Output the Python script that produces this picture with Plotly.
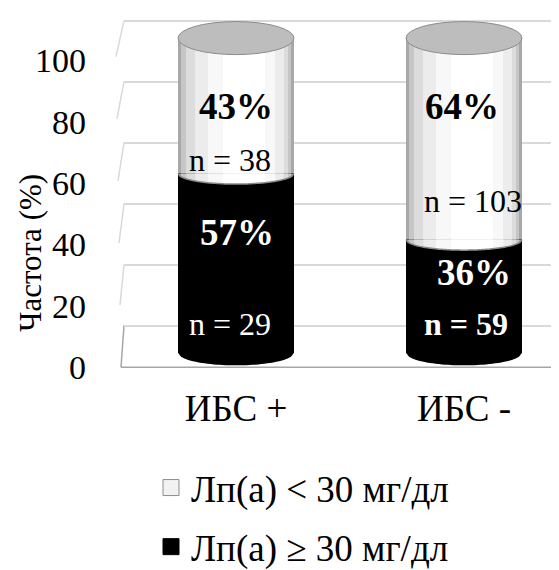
import numpy as np
import plotly.graph_objects as go

# ---------------- data ----------------
categories = ["ИБС +", "ИБС -"]
pct_high = [57, 36]          # Лп(а) ≥ 30 мг/дл
pct_low = [43, 64]           # Лп(а) < 30 мг/дл
n_high = [29, 59]
n_low = [38, 103]
y_ticks = [0, 20, 40, 60, 80, 100]
legend_names = ["Лп(а) < 30 мг/дл", "Лп(а) ≥ 30 мг/дл"]
y_title = "Частота (%)"

# ---------------- layout / style ----------------
FIG_W, FIG_H = 559, 570
L, R, T, B = 116, 559, 0, 380          # plot area in pixels
PW, PH = R - L, B - T
FONT = "Liberation Serif, Times New Roman, serif"

X0_PX, X1_PX = 228, 456                # category centres (px)
SX = X1_PX - X0_PX
x_range = [-(X0_PX - L) / SX, 1 + (R - X1_PX) / SX]
BAR_W = 116 / SX


def axis_range(p0, p100):
    s = (p0 - p100) / 100.0
    return [-(B - p0) / s, 100 + (p100 - T) / s]


CYL = (355, 31)      # cylinder mid-depth plane
FRONT = (370, 54)    # front plane (tick labels)
BACK = (327, 13)     # back wall (grid)
cyl_scale = (CYL[0] - CYL[1]) / 100.0


def px2paper(px, py):
    return (px - L) / PW, (B - py) / PH


LIGHT_LAYERS = [  # (width fraction, shift fraction, colour)
    (1.00, 0.00, "#a8a8a8"),
    (0.95, 0.00, "#c6c6c6"),
    (0.88, 0.01, "#dcdcdc"),
    (0.76, 0.03, "#ececec"),
    (0.58, 0.05, "#f8f8f8"),
    (0.36, 0.07, "#ffffff"),
]
TOP_B = 17 / cyl_scale
MID_B = 11 / cyl_scale
BOT_B = 13 / cyl_scale

# label positions (cylinder-axis units) and pixel shifts
lab_pct_low_y = [78.4, 78.4]
lab_n_low_y = [61.4, 48.1]
lab_pct_high_y = [38.3, 25.5]
lab_n_high_y = [9.0, 9.0]
lab_pct_low_dx = [0, -2]
lab_n_low_dx = [-6, 9]
lab_pct_high_dx = [1, 10]
lab_n_high_dx = [-6, 2]
n_high_bold = [False, True]

fig = go.Figure()

xs = list(range(len(categories)))

# black (lower) segments
fig.add_trace(go.Bar(x=xs, y=pct_high, base=[0] * len(xs), width=BAR_W,
                     offset=-BAR_W / 2, marker=dict(color="#000000", line=dict(width=0)),
                     showlegend=False, hoverinfo="skip"))
# light (upper) segments with cylinder shading
for frac, shift, col in LIGHT_LAYERS:
    w = BAR_W * frac
    fig.add_trace(go.Bar(x=xs, y=pct_low, base=pct_high, width=w,
                         offset=-w / 2 + shift * BAR_W,
                         marker=dict(color=col, line=dict(width=0)),
                         showlegend=False, hoverinfo="skip"))

# legend entries
fig.add_trace(go.Scatter(x=[None], y=[None], mode="markers", name=legend_names[0],
                         legendgroup="a",
                         marker=dict(symbol="square", size=18, color="#f2f2f2",
                                     line=dict(color="#8c8c8c", width=1))))
fig.add_trace(go.Scatter(x=[None], y=[None], mode="markers", name=legend_names[1],
                         legendgroup="b",
                         marker=dict(symbol="square", size=18, color="#000000",
                                     line=dict(color="#000000", width=1))))
# dummy traces so overlay axes are drawn
fig.add_trace(go.Scatter(x=[None], y=[None], yaxis="y2", showlegend=False, hoverinfo="skip"))
fig.add_trace(go.Scatter(x=[None], y=[None], yaxis="y3", showlegend=False, hoverinfo="skip"))

shapes = []

# back-wall side segments + floor
for v in y_ticks:
    fy = 370 - 3.2 * v
    fx = 113 - 0.05 * v
    by = BACK[0] - (BACK[0] - BACK[1]) * v / 100.0
    x0p, y0p = px2paper(fx, fy)
    x1p, y1p = px2paper(L, by)
    col = "#a6a6a6" if v == 0 else "#d9d9d9"
    shapes.append(dict(type="line", xref="paper", yref="paper", x0=x0p, y0=y0p,
                       x1=x1p, y1=y1p, line=dict(color=col, width=1.5), layer="below"))
fx0, fy0 = px2paper(113, 370)
fx1, _ = px2paper(R, 370)
shapes.append(dict(type="line", xref="paper", yref="paper", x0=fx0, y0=fy0, x1=fx1, y1=fy0,
                   line=dict(color="#a6a6a6", width=1.5), layer="below"))


def half_ellipse_path(cx, a, v, b, xl, xr, n=40):
    xl = max(xl, cx - a)
    xr = min(xr, cx + a)
    path = f"M{xl:.5f},{v:.4f}"
    for t in np.linspace(xl, xr, n):
        dx = (t - cx) / a
        y = v - b * np.sqrt(max(0.0, 1 - dx * dx))
        path += f" L{t:.5f},{y:.4f}"
    path += f" L{xr:.5f},{v:.4f} Z"
    return path


def arc_path(cx, a, v, b, n=60):
    path = ""
    for i, t in enumerate(np.linspace(cx - a, cx + a, n)):
        dx = (t - cx) / a
        y = v - b * np.sqrt(max(0.0, 1 - dx * dx))
        path += ("M" if i == 0 else " L") + f"{t:.5f},{y:.4f}"
    return path


a = BAR_W / 2
for i, cx in enumerate(xs):
    total = pct_high[i] + pct_low[i]
    # bottom cap
    shapes.append(dict(type="path", xref="x", yref="y",
                       path=half_ellipse_path(cx, a, 0, BOT_B, cx - a, cx + a),
                       fillcolor="#000000", line=dict(width=0)))
    # boundary bulge of the light segment
    for frac, shift, col in LIGHT_LAYERS:
        w = BAR_W * frac
        xl = cx - w / 2 + shift * BAR_W
        shapes.append(dict(type="path", xref="x", yref="y",
                           path=half_ellipse_path(cx, a, pct_high[i], MID_B, xl, xl + w),
                           fillcolor=col, line=dict(width=0)))
    shapes.append(dict(type="path", xref="x", yref="y",
                       path=arc_path(cx, a, pct_high[i], MID_B),
                       line=dict(color="#8a8a8a", width=1.5)))
    # top cap
    shapes.append(dict(type="circle", xref="x", yref="y",
                       x0=cx - a, x1=cx + a, y0=total - TOP_B, y1=total + TOP_B,
                       fillcolor="#bdbdbd", line=dict(color="#8c8c8c", width=1)))

annotations = []
for i, cx in enumerate(xs):
    annotations.append(dict(x=cx, y=lab_pct_low_y[i], xref="x", yref="y",
                            text=f"<b>{pct_low[i]}%</b>", showarrow=False,
                            xshift=lab_pct_low_dx[i],
                            font=dict(family=FONT, size=37, color="#000000")))
    annotations.append(dict(x=cx, y=lab_n_low_y[i], xref="x", yref="y",
                            text=f"n = {n_low[i]}", showarrow=False,
                            xshift=lab_n_low_dx[i],
                            font=dict(family=FONT, size=32, color="#000000")))
    annotations.append(dict(x=cx, y=lab_pct_high_y[i], xref="x", yref="y",
                            text=f"<b>{pct_high[i]}%</b>", showarrow=False,
                            xshift=lab_pct_high_dx[i],
                            font=dict(family=FONT, size=37, color="#ffffff")))
    t = f"n = {n_high[i]}"
    annotations.append(dict(x=cx, y=lab_n_high_y[i], xref="x", yref="y",
                            text=f"<b>{t}</b>" if n_high_bold[i] else t, showarrow=False,
                            xshift=lab_n_high_dx[i],
                            font=dict(family=FONT, size=32, color="#ffffff")))

tx, ty = px2paper(23, 252)
annotations.append(dict(x=tx, y=ty, xref="paper", yref="paper", text=y_title,
                        textangle=-90, showarrow=False, xanchor="center", yanchor="middle",
                        font=dict(family=FONT, size=31, color="#000000")))

lx, ly = px2paper(143, 463)

fig.update_layout(
    width=FIG_W, height=FIG_H, autosize=False,
    margin=dict(l=L, r=FIG_W - R, t=T, b=FIG_H - B, pad=0),
    paper_bgcolor="#ffffff", plot_bgcolor="rgba(0,0,0,0)",
    barmode="overlay", bargap=0,
    font=dict(family=FONT, color="#000000"),
    xaxis=dict(range=x_range, tickvals=xs, ticktext=categories, showgrid=False,
               zeroline=False, showline=False, ticks="", fixedrange=True,
               tickfont=dict(family=FONT, size=37, color="#000000"),
               ticklabelstandoff=6),
    yaxis=dict(range=axis_range(*CYL), visible=False, fixedrange=True),
    yaxis2=dict(range=axis_range(*FRONT), overlaying="y", side="left", anchor="x",
                tickvals=y_ticks, showgrid=False, zeroline=False, showline=False,
                ticks="", tickfont=dict(family=FONT, size=34, color="#000000"),
                ticklabelstandoff=37, fixedrange=True),
    yaxis3=dict(range=axis_range(*BACK), overlaying="y", side="right", anchor="x",
                tickvals=y_ticks, showgrid=True, gridcolor="#d9d9d9", gridwidth=1.5,
                showticklabels=False, zeroline=False, showline=False, ticks="",
                fixedrange=True),
    showlegend=True,
    legend=dict(x=lx, y=ly, xanchor="left", yanchor="top", orientation="v",
                bgcolor="rgba(0,0,0,0)", tracegroupgap=8,
                font=dict(family=FONT, size=37, color="#000000")),
    shapes=shapes,
    annotations=annotations,
)

fig.write_html("out.html")
